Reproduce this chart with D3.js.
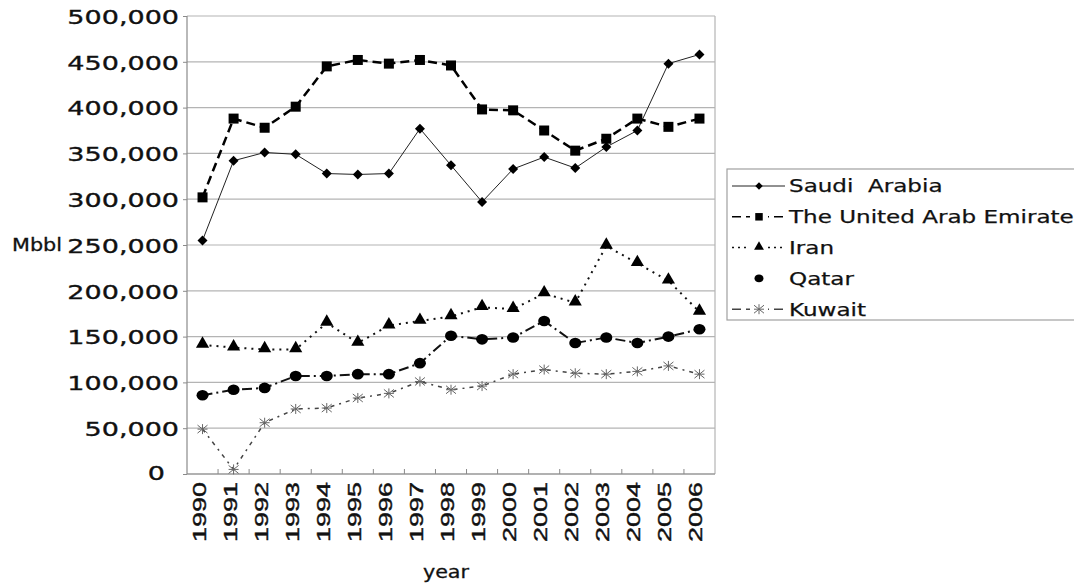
<!DOCTYPE html>
<html><head><meta charset="utf-8">
<script src="https://cdn.jsdelivr.net/npm/d3@7"></script>
<style>body{margin:0;background:#fff}svg{display:block}</style>
</head><body>
<svg id="c" width="1074" height="587"></svg>
<script>
// ---- data ----
const years = ["1990","1991","1992","1993","1994","1995","1996","1997","1998","1999","2000","2001","2002","2003","2004","2005","2006"];
const seriesNames = ["Saudi  Arabia","The United Arab Emirates","Iran","Qatar","Kuwait"];
const saudi  = [255000,342000,351000,349000,328000,327000,328000,377000,337000,297000,333000,346000,334000,357000,375000,448000,458000];
const uae    = [302000,388000,378000,401000,445000,452000,448000,452000,446000,398000,397000,375000,353000,366000,388000,379000,388000];
const iran   = [141000,138000,136000,136000,165000,143000,162000,167000,172000,182000,180000,197000,187000,249000,230000,211000,177000];
const qatar  = [86000,92000,94000,107000,107000,109000,109000,121000,151000,147000,149000,167000,143000,149000,143000,150000,158000];
const kuwait = [49000,5000,56000,71000,72000,83000,88000,101000,92000,96000,109000,114000,110000,109000,112000,118000,109000];
const yTicks = [0,50000,100000,150000,200000,250000,300000,350000,400000,450000,500000];
const yLabel = "Mbbl", xLabel = "year";

// ---- styles ----
const styles = [
  {dash:null, w:1, stroke:"#222", marker:"diamond", lgDash:null},
  {dash:"9,5", w:2.5, stroke:"#000", marker:"square", lgDash:"9,5"},
  {dash:"2,5", w:2, stroke:"#111", marker:"triangle", lgDash:"2,4"},
  {dash:"10,4,2,4", w:2, stroke:"#111", marker:"circle", lgDash:"none"},
  {dash:"4,5,2,5", w:1.5, stroke:"#444", marker:"star", lgDash:"9,5"}
];
const data = [saudi, uae, iran, qatar, kuwait];

const svg = d3.select("#c");
const L = 187, R = 715, T = 16, B = 474;
const x = d3.scaleBand().domain(years).range([L, R]).padding(0);
const xc = d => x(d) + x.bandwidth()/2;
const y = d3.scaleLinear().domain([0, 500000]).range([B, T]);

function stretch(sel, f){
  sel.each(function(){ const n=this; const w=n.getComputedTextLength(); n.setAttribute("textLength", w*f); n.setAttribute("lengthAdjust","spacingAndGlyphs"); });
}
function bolden(sel, w){ sel.attr("stroke","#111").attr("stroke-width", w); }

// grid
svg.append("g").selectAll("line").data(yTicks).join("line")
  .attr("x1", L).attr("x2", R).attr("y1", d=>y(d)).attr("y2", d=>y(d))
  .attr("stroke", "#b4b4b4").attr("stroke-width", 1.2);
// frame
svg.append("line").attr("x1",L).attr("x2",L).attr("y1",T).attr("y2",B).attr("stroke","#8a8a8a").attr("stroke-width",1.2);
svg.append("line").attr("x1",R).attr("x2",R).attr("y1",T).attr("y2",B).attr("stroke","#b4b4b4").attr("stroke-width",1.2);
svg.append("line").attr("x1",L).attr("x2",R).attr("y1",B).attr("y2",B).attr("stroke","#8a8a8a").attr("stroke-width",1.2);

// y axis
const yAxis = svg.append("g").attr("transform", `translate(${L},0)`)
  .call(d3.axisLeft(y).tickValues(yTicks).tickSize(4).tickPadding(4).tickFormat(d3.format(",")));
yAxis.select(".domain").remove();
yAxis.selectAll(".tick line").attr("stroke","#8a8a8a");
yAxis.selectAll("text").attr("font-family","DejaVu Sans").attr("font-size",20).attr("fill","#111")
  .attr("dy","0.36em");
bolden(yAxis.selectAll("text"), 0.35);
stretch(yAxis.selectAll("text"), 1.35);
yAxis.selectAll(".tick").filter(d=>d===0).select("text").attr("x",-22).attr("dy","0.28em");

// x ticks at boundaries (upward)
svg.append("g").selectAll("line").data(years.slice(1)).join("line")
  .attr("x1", d=>x(d)).attr("x2", d=>x(d)).attr("y1", B).attr("y2", B-5)
  .attr("stroke","#8a8a8a");
// x labels
const xl = svg.append("g").selectAll("text").data(years).join("text")
  .attr("transform", d=>`translate(${xc(d)+3},482) rotate(-90)`)
  .attr("text-anchor","end").attr("font-family","Liberation Sans").attr("font-size",19).attr("fill","#111")
  .text(d=>d);
bolden(xl, 0.4);
stretch(xl, 1.42);

// axis titles
const yt = svg.append("text").attr("x",12).attr("y",251).attr("font-family","DejaVu Sans").attr("font-size",17).attr("fill","#111").text(yLabel);
bolden(yt, 0.3);
stretch(yt, 1.22);
const xt = svg.append("text").attr("x",446).attr("y",578).attr("text-anchor","middle").attr("font-family","DejaVu Sans").attr("font-size",18).attr("fill","#111").text(xLabel);
bolden(xt, 0.3);
stretch(xt, 1.15);

// markers
function marker(g, type){
  if(type==="diamond") g.append("path").attr("d", d3.symbol(d3.symbolSquare, 50)()).attr("transform","rotate(45)").attr("fill","#000");
  else if(type==="square") g.append("path").attr("d", d3.symbol(d3.symbolSquare, 100)()).attr("fill","#000");
  else if(type==="triangle") g.append("path").attr("d", d3.symbol(d3.symbolTriangle, 75)()).attr("transform","translate(0,-1)").attr("fill","#000");
  else if(type==="circle") g.append("ellipse").attr("rx",6).attr("ry",5.3).attr("fill","#000");
  else if(type==="star") g.append("path").attr("d","M-5,-4L5,4M-5,4L5,-4M0,-5L0,5M-5,0L5,0").attr("stroke","#666").attr("stroke-width",1).attr("fill","none");
}

const line = d3.line().x((d,i)=>xc(years[i])).y(d=>y(d));
data.forEach((vals, si) => {
  const s = styles[si];
  svg.append("path").datum(vals).attr("d", line).attr("fill","none")
    .attr("stroke", s.stroke).attr("stroke-width", s.w).attr("stroke-dasharray", s.dash);
});
data.forEach((vals, si) => {
  const s = styles[si];
  svg.append("g").selectAll("g").data(vals).join("g")
    .attr("transform",(d,i)=>`translate(${xc(years[i])},${y(d)})`)
    .each(function(){ marker(d3.select(this), s.marker); });
});

// legend
const lg = svg.append("g");
lg.append("rect").attr("x",727).attr("y",169).attr("width",400).attr("height",151)
  .attr("fill","#fff").attr("stroke","#a0a0a0").attr("stroke-width",1.2);
seriesNames.forEach((name, i) => {
  const s = styles[i];
  const cy = 186 + i*30.8;
  if(s.lgDash!=="none") lg.append("line").attr("x1",732).attr("x2",785).attr("y1",cy).attr("y2",cy)
    .attr("stroke", s.stroke).attr("stroke-width", Math.min(s.w,1.5)).attr("stroke-dasharray", s.lgDash);
  if(s.lgDash!=="none" && s.lgDash) {
    lg.append("rect").attr("x",750).attr("y",cy-6).attr("width",18).attr("height",12).attr("fill","#fff");
  }
  const g = lg.append("g").attr("transform",`translate(759,${cy})`);
  marker(g, s.marker);
  if(s.marker!=="star") g.attr("transform",`translate(759,${cy}) scale(0.75)`);
  const t = lg.append("text").attr("x",789).attr("y",cy).attr("dy","0.36em")
    .attr("font-family","DejaVu Sans").attr("font-size",18).attr("fill","#111")
    .attr("xml:space","preserve").style("white-space","pre").text(name);
  bolden(t, 0.25);
  stretch(t, 1.28);
});
</script>
</body></html>
